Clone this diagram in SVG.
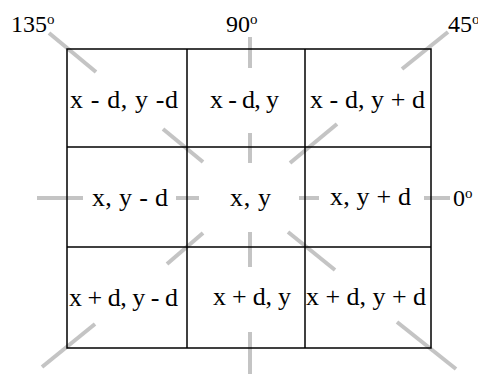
<svg xmlns="http://www.w3.org/2000/svg" width="478" height="374" viewBox="0 0 478 374">
<style>
.grid{stroke:#000;stroke-width:1.5;fill:none}
.ray{stroke:#c4c4c4;stroke-width:4;fill:none}
text{font-family:"Liberation Serif","Times New Roman",serif;font-size:26px;fill:#000}
.lbl{font-size:24px}
.sup{font-size:15px}
</style>
<rect width="478" height="374" fill="#fff"/>
<g id="connectors">
<line class="ray" x1="49" y1="33" x2="96" y2="72"/>
<line class="ray" x1="163" y1="129" x2="203" y2="162"/>
<line class="ray" x1="250" y1="37" x2="250" y2="68"/>
<line class="ray" x1="250" y1="133" x2="250" y2="163"/>
<line class="ray" x1="448" y1="32" x2="402" y2="69"/>
<line class="ray" x1="337" y1="124" x2="290" y2="163"/>
<line class="ray" x1="37" y1="198" x2="83" y2="198"/>
<line class="ray" x1="176" y1="198" x2="199" y2="198"/>
<line class="ray" x1="299" y1="198" x2="319" y2="198"/>
<line class="ray" x1="424" y1="198" x2="450" y2="198"/>
<line class="ray" x1="203" y1="233" x2="167" y2="264"/>
<line class="ray" x1="250" y1="232" x2="250" y2="267"/>
<line class="ray" x1="288" y1="232" x2="335" y2="270"/>
<line class="ray" x1="95" y1="324" x2="42" y2="367"/>
<line class="ray" x1="250" y1="332" x2="250" y2="374"/>
<line class="ray" x1="397" y1="322" x2="456" y2="369"/>
</g>
<g id="grid">
<rect class="grid" x="67" y="49" width="364" height="299"/>
<line class="grid" x1="187" y1="49" x2="187" y2="348"/>
<line class="grid" x1="305" y1="49" x2="305" y2="348"/>
<line class="grid" x1="67" y1="147" x2="431" y2="147"/>
<line class="grid" x1="67" y1="247" x2="431" y2="247"/>
</g>
<g id="cell-11"><text x="70" y="108" textLength="108" lengthAdjust="spacing">x - d, y -d</text></g>
<g id="cell-12"><text x="210" y="108" textLength="69" lengthAdjust="spacing">x - d, y</text></g>
<g id="cell-13"><text x="310" y="108" textLength="115" lengthAdjust="spacing">x - d, y + d</text></g>
<g id="cell-21"><text x="92" y="206" textLength="76" lengthAdjust="spacing">x, y - d</text></g>
<g id="cell-22"><text x="230" y="206" textLength="41" lengthAdjust="spacing">x, y</text></g>
<g id="cell-23"><text x="330" y="205" textLength="81" lengthAdjust="spacing">x, y + d</text></g>
<g id="cell-31"><text x="69" y="306" textLength="109" lengthAdjust="spacing">x + d, y - d</text></g>
<g id="cell-32"><text x="213" y="305" textLength="78" lengthAdjust="spacing">x + d, y</text></g>
<g id="cell-33"><text x="306" y="305" textLength="120" lengthAdjust="spacing">x + d, y + d</text></g>
<g id="label-135"><text class="lbl" x="11" y="32">135<tspan class="sup" dy="-8">o</tspan></text></g>
<g id="label-90"><text class="lbl" x="226" y="32">90<tspan class="sup" dy="-8">o</tspan></text></g>
<g id="label-45"><text class="lbl" x="448" y="32">45<tspan class="sup" dy="-8">o</tspan></text></g>
<g id="label-0"><text class="lbl" x="453" y="206">0<tspan class="sup" dy="-8">o</tspan></text></g>
</svg>
